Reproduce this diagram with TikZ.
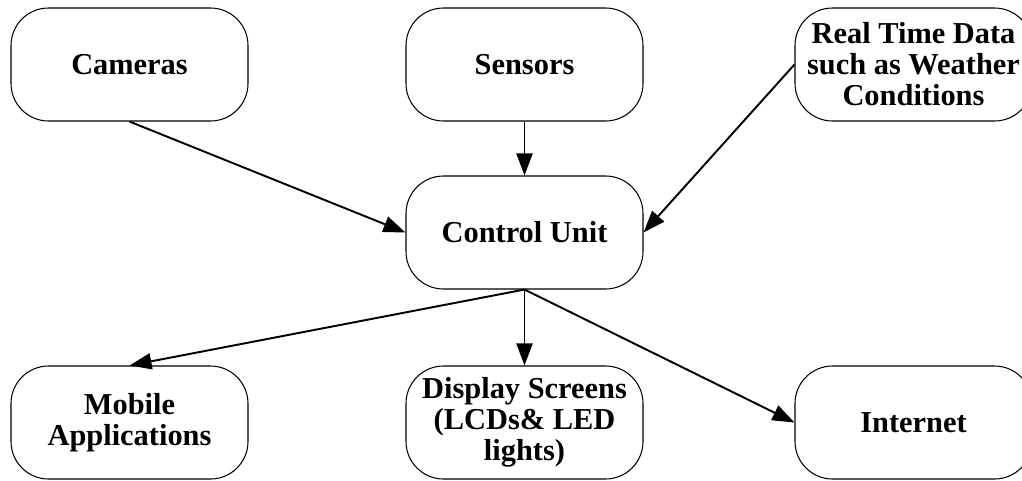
\documentclass[tikz,border=0pt]{standalone}
\usepackage{fontspec}
\setmainfont{Liberation Serif}
\usepackage{tikz}
\usetikzlibrary{arrows.meta,positioning}
\tikzset{
  box/.style={draw=black,fill=white,rounded corners=0.75cm,line width=0.6pt,align=center,
    font=\fontsize{17.3}{17.6}\selectfont\bfseries,minimum width=4.74cm,minimum height=2.26cm,inner sep=2pt},
  arr/.style={-{Triangle[length=0.44cm,width=0.32cm]},line width=1.1pt,draw=black},
}
\begin{document}
\begin{tikzpicture}
  \useasboundingbox (0,0) rectangle (20.44,-9.6);
  % entradas
  \node[box] (cam) at (2.59,-1.29) {Cameras};
  \node[box] (sen) at (10.49,-1.29) {Sensors};
  \node[box] (rtd) at (18.27,-1.29) {Real Time Data\\such as Weather\\Conditions};
  % centro
  \node[box] (ctrl) at (10.49,-4.65) {Control Unit};
  % saidas
  \node[box] (mob) at (2.59,-8.45) {Mobile\\Applications};
  \node[box] (disp) at (10.49,-8.45) {Display Screens\\(LCDs\& LED\\lights)};
  \node[box] (inet) at (18.27,-8.45) {Internet};
  \draw[arr] (cam.south) -- (ctrl.west);
  \draw[arr] (sen) -- (ctrl);
  \draw[arr] (rtd.west) -- (ctrl.east);
  \draw[arr] (ctrl.south) -- (mob.north);
  \draw[arr] (ctrl.south) -- (disp.north);
  \draw[arr] (ctrl.south) -- (inet.west);
\end{tikzpicture}
\end{document}
